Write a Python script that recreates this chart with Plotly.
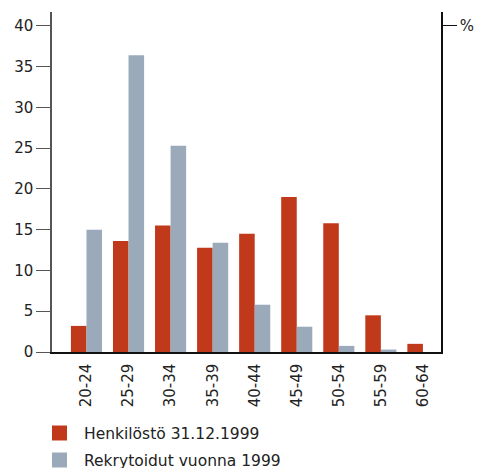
import plotly.graph_objects as go

categories = ["20-24", "25-29", "30-34", "35-39", "40-44", "45-49", "50-54", "55-59", "60-64"]
henkilosto = [3.2, 13.6, 15.5, 12.8, 14.5, 19.0, 15.8, 4.5, 1.0]
rekrytoidut = [15.0, 36.4, 25.3, 13.4, 5.8, 3.1, 0.75, 0.3, 0.0]
series_names = ["Henkilöstö 31.12.1999", "Rekrytoidut vuonna 1999"]
colors = ["#C0391A", "#9AAABA"]
y_ticks = [0, 5, 10, 15, 20, 25, 30, 35, 40]

font = "DejaVu Sans"
fig = go.Figure()
fig.add_trace(go.Bar(x=categories, y=henkilosto, name=series_names[0],
                     marker=dict(color=colors[0], line=dict(width=0))))
fig.add_trace(go.Bar(x=categories, y=rekrytoidut, name=series_names[1],
                     marker=dict(color=colors[1], line=dict(width=0))))
# invisible trace for right axis
fig.add_trace(go.Scatter(x=[categories[0]], y=[0], yaxis="y2", mode="markers",
                         marker=dict(opacity=0), showlegend=False, hoverinfo="skip"))

OFF = 8  # default page body margin
W, H = 474, 460
ml, mt = 52 - OFF, 12 - OFF
pw, ph = 389, 340
mr, mb = W - ml - pw, H - mt - ph
fig.update_layout(
    width=W, height=H,
    margin=dict(l=ml, r=mr, t=mt, b=mb, autoexpand=False),
    paper_bgcolor="white", plot_bgcolor="white",
    barmode="group", bargap=0.26, bargroupgap=0,
    showlegend=False,
    font=dict(family=font, size=15, color="#222"),
    xaxis=dict(type="category", range=[-0.82, 8.43], showline=True, linecolor="#111",
               linewidth=1.5, ticks="", tickangle=-90, showgrid=False, zeroline=False,
               automargin=False, ticklabelstandoff=4,
               tickfont=dict(family=font, size=15, color="#222")),
    yaxis=dict(range=[0, 41.7], tickvals=y_ticks, ticks="outside", ticklen=14,
               tickcolor="#555", tickwidth=1.2, showline=True, linecolor="#555", linewidth=1.5,
               showgrid=False, zeroline=False, automargin=False,
               tickfont=dict(family=font, size=15, color="#222")),
    yaxis2=dict(range=[0, 41.7], overlaying="y", side="right", tickvals=[40], ticktext=["%"],
                ticks="outside", ticklen=14, tickcolor="#111", tickwidth=1.2,
                showline=True, linecolor="#111", linewidth=1.5, showgrid=False, zeroline=False,
                automargin=False, tickfont=dict(family=font, size=15, color="#222")),
)

# manual legend (page pixel positions)
leg_y = [433, 460]
for i, (name, c) in enumerate(zip(series_names, colors)):
    yc = leg_y[i] - OFF
    fig.add_shape(type="rect", xref="paper", yref="paper",
                  x0=(52 - OFF - ml) / pw, x1=(67 - OFF - ml) / pw,
                  y0=(H - mb - (yc + 7.5)) / ph, y1=(H - mb - (yc - 7.5)) / ph,
                  fillcolor=c, line=dict(width=0))
    fig.add_annotation(xref="paper", yref="paper",
                       x=(82 - OFF - ml) / pw, y=(H - mb - yc - 1) / ph,
                       xanchor="left", yanchor="middle", showarrow=False,
                       text=name, font=dict(family=font, size=15.5, color="#222"))

fig.write_html("out.html")
